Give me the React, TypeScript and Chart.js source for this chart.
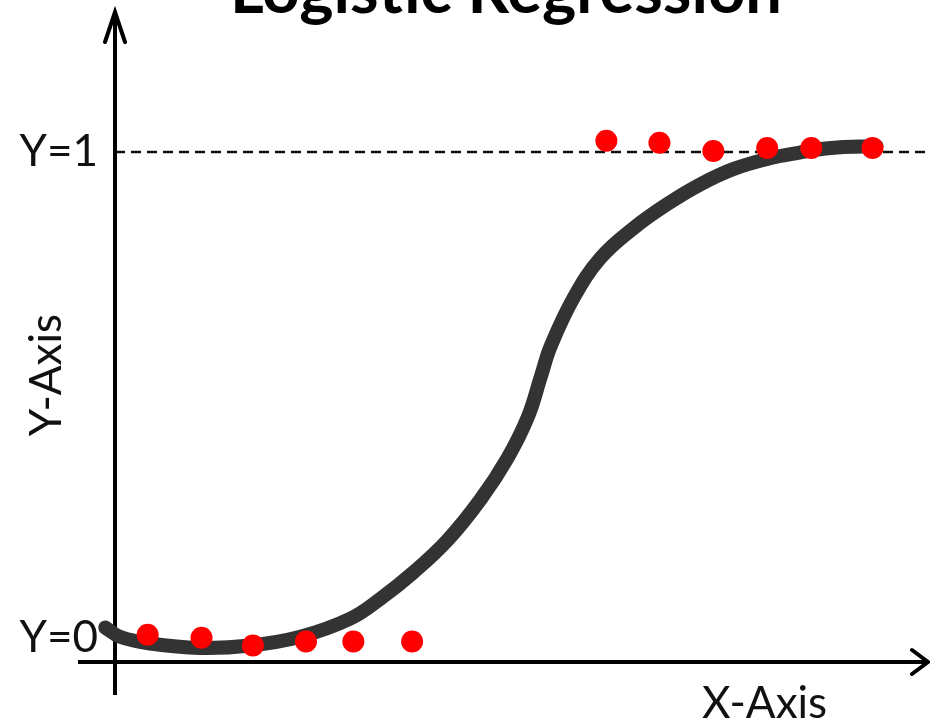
import React, { useEffect, useRef } from "react";
import { Chart, registerables } from "chart.js";

Chart.register(...registerables);

// Fitted logistic curve (x, probability)
const curveX = [-0.12, 0.06, 0.43, 1.04, 1.66, 2.27, 2.88, 3.25, 3.66, 4.07, 4.48, 4.81, 5.06, 5.22, 5.34, 5.62, 5.95, 6.36, 6.77, 7.18, 7.58, 8.0, 8.37, 8.77, 9.33];
const curveY = [0.021, 0.002, -0.012, -0.021, -0.016, 0.002, 0.039, 0.08, 0.135, 0.2, 0.285, 0.37, 0.455, 0.539, 0.601, 0.7, 0.782, 0.844, 0.893, 0.934, 0.965, 0.986, 0.998, 1.008, 1.012];

// Observed data points
const obsX = [0.4, 1.06, 1.69, 2.34, 2.92, 3.64, 6.02, 6.67, 7.33, 7.99, 8.53, 9.28];
const obsY = [0.006, 0.0, -0.016, -0.008, -0.008, -0.008, 1.023, 1.019, 1.002, 1.008, 1.008, 1.008];

const yTickValues = [0, 1];
const yTickLabels = ["Y=0", "Y=1"];

const titleText = "Logistic Regression";
const xAxisText = "X-Axis";
const yAxisText = "Y-Axis";

const FONT = "Lato";

const annotations = {
  id: "annotations",
  beforeDatasetsDraw(chart: any) {
    const ctx = chart.ctx;
    const area = chart.chartArea;
    const y = chart.scales.y;
    const y0 = area.bottom;
    const y1 = y.getPixelForValue(1);
    ctx.save();
    // dashed Y=1 line
    ctx.strokeStyle = "#111";
    ctx.lineWidth = 2.5;
    ctx.setLineDash([10, 6]);
    ctx.beginPath();
    ctx.moveTo(area.left, y1);
    ctx.lineTo(930, y1);
    ctx.stroke();
    ctx.setLineDash([]);
    // axes
    ctx.strokeStyle = "#000";
    ctx.lineWidth = 4;
    ctx.lineCap = "butt";
    ctx.beginPath();
    ctx.moveTo(area.left, 695);
    ctx.lineTo(area.left, 12);
    ctx.moveTo(78, y0);
    ctx.lineTo(928, y0);
    ctx.stroke();
    // arrowheads
    ctx.lineJoin = "miter";
    ctx.lineCap = "round";
    ctx.beginPath();
    ctx.moveTo(area.left - 10, 42);
    ctx.lineTo(area.left, 12);
    ctx.lineTo(area.left + 10, 42);
    ctx.moveTo(912, y0 - 12);
    ctx.lineTo(928, y0);
    ctx.lineTo(912, y0 + 12);
    ctx.stroke();
    ctx.restore();
  },
  afterDraw(chart: any) {
    const ctx = chart.ctx;
    ctx.save();
    ctx.fillStyle = "#000";
    ctx.textBaseline = "alphabetic";
    ctx.textAlign = "center";
    ctx.font = `bold 65px ${FONT}`;
    ctx.fillText(titleText, 506, 13);
    ctx.fillStyle = "#111";
    ctx.font = `44px ${FONT}`;
    ctx.textAlign = "left";
    ctx.textBaseline = "middle";
    ctx.fillText(xAxisText, 702, 704);
    ctx.translate(47, 375);
    ctx.rotate(-Math.PI / 2);
    ctx.textAlign = "center";
    ctx.fillText(yAxisText, 0, 0);
    ctx.restore();
  },
};

export default function App() {
  const ref = useRef<HTMLCanvasElement>(null);
  useEffect(() => {
    if (!ref.current) return;
    const chart = new Chart(ref.current, {
      type: "scatter",
      data: {
        datasets: [
          {
            label: "Observations",
            data: obsX.map((x, i) => ({ x, y: obsY[i] })),
            backgroundColor: "#ff0000",
            borderColor: "#ff0000",
            pointRadius: 11,
            borderWidth: 0,
            showLine: false,
            clip: false,
          },
          {
            label: "Logistic fit",
            data: curveX.map((x, i) => ({ x, y: curveY[i] })),
            borderColor: "#333333",
            backgroundColor: "#333333",
            borderWidth: 14,
            pointRadius: 0,
            showLine: true,
            tension: 0.4,
            borderCapStyle: "round",
            clip: false,
          } as any,
        ],
      },
      options: {
        responsive: false,
        animation: false,
        layout: { padding: { left: 0, right: 0, top: 0, bottom: 62 } },
        plugins: {
          legend: { display: false },
          tooltip: { enabled: false },
          title: { display: false },
        },
        scales: {
          x: { type: "linear", min: 0, max: 9.85, display: false },
          y: {
            type: "linear",
            min: -0.05,
            max: 1.29,
            position: "left",
            grid: { display: false, drawTicks: false },
            border: { display: false },
            afterBuildTicks: (s: any) => {
              s.ticks = yTickValues.map((v) => ({ value: v }));
            },
            afterFit: (s: any) => {
              s.width = 115;
              s.paddingTop = 0;
              s.paddingBottom = 0;
            },
            ticks: {
              padding: 17,
              color: "#111",
              font: { family: FONT, size: 44 },
              callback: (v: any) => {
                const i = yTickValues.indexOf(Number(v));
                return i >= 0 ? yTickLabels[i] : "";
              },
            },
          },
        },
      },
      plugins: [annotations],
    });
    return () => chart.destroy();
  }, []);
  return (
    <div style={{ position: "fixed", left: 0, top: 0, width: 930, height: 724, background: "#fff" }}>
      <canvas ref={ref} width={930} height={724} />
    </div>
  );
}
